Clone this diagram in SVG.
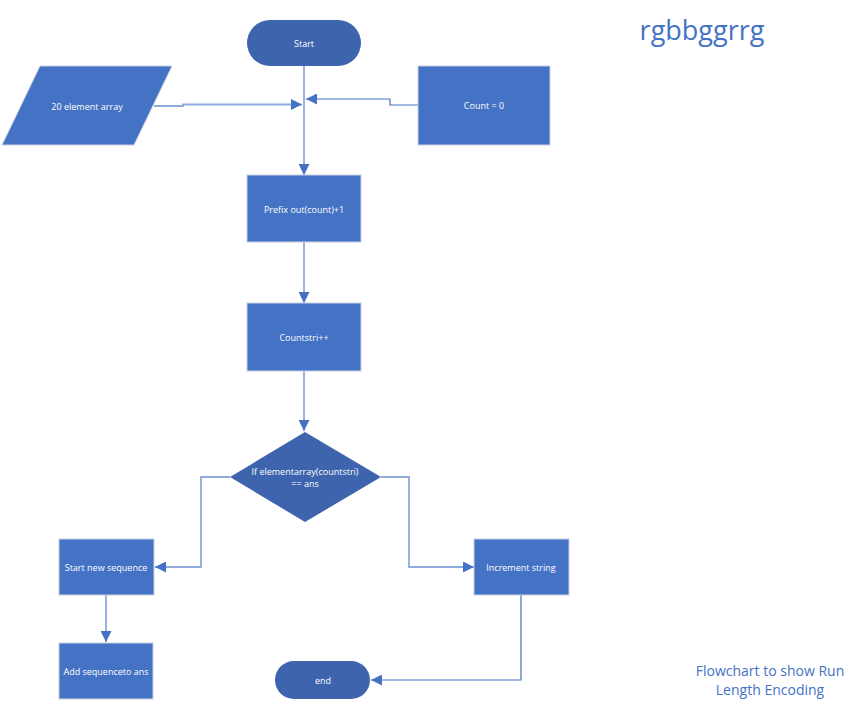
<svg xmlns="http://www.w3.org/2000/svg" width="857" height="708" viewBox="0 0 857 708">
<defs>
<style>
.box{fill:#4472C4;stroke:#C8D0E0;stroke-width:1}
.term{fill:#3E64AE;stroke:none}
.dia{fill:#3E64AE;stroke:none}
.t{font-family:"Open Sans","Noto Sans",sans-serif;font-size:9px;fill:#FFFFFF;text-anchor:middle;dominant-baseline:central}
.c{fill:none;stroke:#8FAADC;stroke-width:1.8}
.cd{fill:none;stroke:#4472C4;stroke-width:1.2}
.note{font-family:"Open Sans","Noto Sans",sans-serif;fill:#4472C4;text-anchor:middle}
</style>
<marker id="ah2" viewBox="0 0 10 10" refX="10" refY="5" markerWidth="11" markerHeight="11" markerUnits="userSpaceOnUse" orient="auto">
<path d="M0,0 L10,5 L0,10 Z" fill="#4472C4"/>
</marker>
</defs>
<rect width="857" height="708" fill="#FFFFFF"/>
<g id="connectors">
<path class="c" d="M304,66 L304,175" marker-end="url(#ah2)"/>
<path class="c" d="M154,106 L183,106 L183,104.5 L302,104.5" marker-end="url(#ah2)"/>
<path class="cd" d="M418,105 L390,105 L390,99 L306,99" marker-end="url(#ah2)"/>
<path class="c" d="M304,242 L304,303" marker-end="url(#ah2)"/>
<path class="c" d="M304,371 L304,431" marker-end="url(#ah2)"/>
<path class="c" d="M230,477 L201,477 L201,567 L155,567" marker-end="url(#ah2)"/>
<path class="c" d="M381,477 L409,477 L409,567 L474,567" marker-end="url(#ah2)"/>
<path class="c" d="M106,595 L106,642" marker-end="url(#ah2)"/>
<path class="cd" d="M521,595 L521,680 L371,680" marker-end="url(#ah2)"/>
</g>
<g id="start">
<rect class="term" x="247" y="20" width="114" height="46" rx="23"/>
<text class="t" x="304" y="43">Start</text>
</g>
<g id="input">
<polygon class="box" points="40,66 172,66 134,145 2,145"/>
<text class="t" x="87" y="106">20 element array</text>
</g>
<g id="count0">
<rect class="box" x="418" y="66" width="132" height="79"/>
<text class="t" x="484" y="105">Count = 0</text>
</g>
<g id="prefix">
<rect class="box" x="247" y="175" width="114" height="67"/>
<text class="t" x="304" y="209">Prefix out(count)+1</text>
</g>
<g id="countstri">
<rect class="box" x="247" y="303" width="114" height="68"/>
<text class="t" x="304" y="337">Countstri++</text>
</g>
<g id="decision">
<polygon class="dia" points="305,432 381,477 305,522 230,477"/>
<text class="t" x="305" y="471">If elementarray(countstri)</text>
<text class="t" x="305" y="483">== ans</text>
</g>
<g id="newseq">
<rect class="box" x="59" y="539" width="95" height="56"/>
<text class="t" x="106" y="567">Start new sequence</text>
</g>
<g id="incr">
<rect class="box" x="474" y="539" width="95" height="56"/>
<text class="t" x="521" y="567">Increment string</text>
</g>
<g id="addseq">
<rect class="box" x="59" y="643" width="94" height="56"/>
<text class="t" x="106" y="671">Add sequenceto ans</text>
</g>
<g id="end">
<rect class="term" x="275" y="661" width="95" height="38" rx="19"/>
<text class="t" x="323" y="680">end</text>
</g>
<text class="note" x="702" y="40" font-size="27">rgbbggrrg</text>
<text class="note" x="770" y="676" font-size="14">Flowchart to show Run</text>
<text class="note" x="770" y="695" font-size="14">Length Encoding</text>
</svg>
